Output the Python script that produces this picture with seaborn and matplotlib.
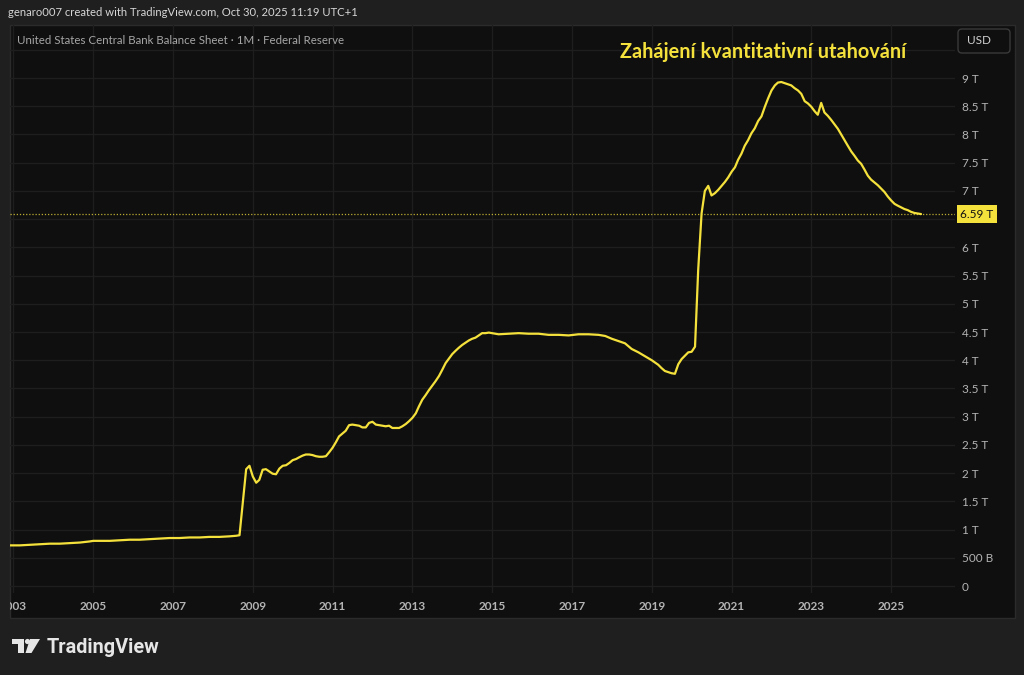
import seaborn as sns
import matplotlib.pyplot as plt
import matplotlib.dates as mdates
import matplotlib.transforms as mtransforms
from matplotlib.patches import Rectangle, FancyBboxPatch, Circle, Polygon
import pandas as pd

# ==========================
# DATA (trillions USD, monthly close)
# ==========================
months = [
    '2002-12', '2003-03', '2003-06', '2003-09', '2003-12', '2004-03', '2004-06', '2004-09',
    '2004-12', '2005-01', '2005-06', '2005-09', '2005-12', '2006-03', '2006-06', '2006-09',
    '2006-12', '2007-03', '2007-06', '2007-09', '2007-12', '2008-03', '2008-06', '2008-08',
    '2008-09', '2008-10', '2008-11', '2008-12',
    '2009-01', '2009-02', '2009-03', '2009-04', '2009-05', '2009-06', '2009-07', '2009-08',
    '2009-09', '2009-10', '2009-11', '2009-12',
    '2010-01', '2010-02', '2010-03', '2010-04', '2010-05', '2010-06', '2010-07', '2010-08',
    '2010-09', '2010-10', '2010-11', '2010-12',
    '2011-01', '2011-02', '2011-03', '2011-04', '2011-05', '2011-06', '2011-07', '2011-08',
    '2011-09', '2011-10', '2011-11', '2011-12',
    '2012-01', '2012-02', '2012-03', '2012-04', '2012-05', '2012-06', '2012-07', '2012-08',
    '2012-09', '2012-10', '2012-11', '2012-12',
    '2013-01', '2013-02', '2013-03', '2013-04', '2013-05', '2013-06', '2013-07', '2013-08',
    '2013-09', '2013-10', '2013-11', '2013-12',
    '2014-01', '2014-02', '2014-03', '2014-04', '2014-05', '2014-06', '2014-07', '2014-08',
    '2014-09', '2014-10', '2014-11', '2014-12',
    '2015-03', '2015-06', '2015-09', '2015-12', '2016-03', '2016-06', '2016-09', '2016-12',
    '2017-03', '2017-06', '2017-09', '2017-11', '2018-01', '2018-03', '2018-05', '2018-07',
    '2018-09', '2018-11',
    '2019-01', '2019-03', '2019-04', '2019-05', '2019-06', '2019-07', '2019-08', '2019-09',
    '2019-10', '2019-11', '2019-12',
    '2020-01', '2020-02', '2020-03', '2020-04', '2020-05', '2020-06', '2020-07', '2020-08',
    '2020-09', '2020-10', '2020-11', '2020-12',
    '2021-01', '2021-02', '2021-03', '2021-04', '2021-05', '2021-06', '2021-07', '2021-08',
    '2021-09', '2021-10', '2021-11', '2021-12',
    '2022-01', '2022-02', '2022-03', '2022-04', '2022-05', '2022-06', '2022-07', '2022-08',
    '2022-09', '2022-10', '2022-11', '2022-12',
    '2023-01', '2023-02', '2023-03', '2023-04', '2023-05', '2023-06', '2023-07', '2023-08',
    '2023-09', '2023-10', '2023-11', '2023-12',
    '2024-01', '2024-02', '2024-03', '2024-04', '2024-05', '2024-06', '2024-07', '2024-08',
    '2024-09', '2024-10', '2024-11', '2024-12',
    '2025-01', '2025-02', '2025-03', '2025-04', '2025-05', '2025-06', '2025-07', '2025-08',
    '2025-09', '2025-10',
]
assets_tn = [
    0.72, 0.72, 0.73, 0.74, 0.75, 0.75, 0.76, 0.77,
    0.79, 0.80, 0.80, 0.81, 0.82, 0.82, 0.83, 0.84,
    0.85, 0.85, 0.86, 0.86, 0.87, 0.87, 0.88, 0.89,
    0.90, 1.48, 2.07, 2.13,
    1.94, 1.83, 1.88, 2.06, 2.07, 2.03, 1.99, 1.98,
    2.08, 2.13, 2.14, 2.18,
    2.23, 2.25, 2.28, 2.31, 2.33, 2.33, 2.32, 2.30,
    2.29, 2.29, 2.30, 2.37,
    2.45, 2.55, 2.65, 2.70, 2.75, 2.85, 2.86, 2.85,
    2.84, 2.81, 2.81, 2.89,
    2.91, 2.86, 2.85, 2.84, 2.83, 2.84, 2.80, 2.80,
    2.80, 2.83, 2.87, 2.92,
    2.98, 3.06, 3.18, 3.30, 3.38, 3.47, 3.55, 3.63,
    3.72, 3.83, 3.95, 4.03,
    4.11, 4.17, 4.22, 4.27, 4.31, 4.35, 4.38, 4.40,
    4.44, 4.48, 4.48, 4.49,
    4.46, 4.47, 4.48, 4.47, 4.47, 4.45, 4.45, 4.44,
    4.46, 4.46, 4.45, 4.43, 4.38, 4.34, 4.30, 4.20,
    4.14, 4.07,
    4.00, 3.92, 3.86, 3.81, 3.79, 3.77, 3.76, 3.93,
    4.02, 4.08, 4.14,
    4.15, 4.24, 5.60, 6.60, 7.00, 7.09, 6.92, 6.96,
    7.02, 7.09, 7.16, 7.24,
    7.34, 7.42, 7.55, 7.66, 7.80, 7.90, 8.02, 8.11,
    8.24, 8.32, 8.49, 8.64,
    8.78, 8.87, 8.92, 8.93, 8.91, 8.89, 8.87, 8.82,
    8.78, 8.72, 8.59, 8.55,
    8.49, 8.41, 8.35, 8.56, 8.39, 8.33, 8.26, 8.18,
    8.10, 8.00, 7.90, 7.80,
    7.70, 7.62, 7.54, 7.48, 7.38, 7.27, 7.20, 7.15,
    7.10, 7.04, 6.98, 6.90,
    6.83, 6.77, 6.74, 6.71, 6.68, 6.66, 6.63, 6.61,
    6.60, 6.59,
]
year_ticks = list(range(2003, 2027, 2))
level_ticks = [i * 0.5 for i in range(20)]
last_value = 6.59

header = "genaro007 created with TradingView.com, Oct 30, 2025 11:19 UTC+1"
series_name = "United States Central Bank Balance Sheet \u00b7 1M \u00b7 Federal Reserve"
note = "Zahájení kvantitativní utahování"

# colours
BG = '#1f1f1f'
PANEL = '#0f0f0f'
GRID = '#1e1e1e'
TXT = '#b4b4b4'
YEL = '#f5e13c'

sns.set_theme(style='dark', rc={
    'figure.facecolor': BG,
    'axes.facecolor': 'none',
    'grid.color': GRID,
    'text.color': TXT,
    'xtick.color': TXT,
    'ytick.color': TXT,
})
plt.rcParams['font.family'] = ['Lato', 'DejaVu Sans']

df = pd.DataFrame({'date': pd.to_datetime(months), 'assets': assets_tn})

W, H = 1024, 675
fig = plt.figure(figsize=(W / 100, H / 100), dpi=100)
px = fig.dpi_scale_trans  # coordinates in inches (1 in = 100 px)


def fy(y):
    # pixel row (from top) -> inches from bottom
    return (H - y) / 100


# chart panel behind the axes
fig.add_artist(Rectangle((0.10, fy(618)), 10.05, 5.93, transform=px,
                         fc=PANEL, ec='#2b2b2b', lw=1, zorder=-1))

ax = fig.add_axes([10 / W, (H - 593) / H, 945 / W, 568 / H])

sns.lineplot(data=df, x='date', y='assets', ax=ax, color=YEL, linewidth=1.6, zorder=3)
ax.axhline(last_value, color=YEL, lw=0.9, ls=(0, (1, 1.5)), alpha=0.75, zorder=2)

ax.set_xlim(pd.Timestamp('2002-12-01'), pd.Timestamp('2026-08-08'))
ax.set_ylim(-0.124, 9.94)
ax.set_xlabel('')
ax.set_ylabel('')

ax.set_xticks(pd.to_datetime([f'{y}-01-01' for y in year_ticks]))
ax.xaxis.set_major_formatter(mdates.DateFormatter('%Y'))
ax.set_yticks(level_ticks)
ylabels = []
for v in level_ticks:
    if v == 0:
        ylabels.append('0')
    elif v == 0.5:
        ylabels.append('500 B')
    elif v in (6.5, 9.5):
        # covered by the last-value tag / USD button
        ylabels.append('')
    else:
        ylabels.append(f'{v:g} T')
ax.set_yticklabels(ylabels)
ax.yaxis.tick_right()

ax.grid(True, color=GRID, lw=1)
ax.set_axisbelow(True)
ax.tick_params(axis='x', length=0, pad=6, labelsize=8.5, labelcolor=TXT)
ax.tick_params(axis='y', length=0, pad=5, labelsize=8.5, labelcolor=TXT)
for lbl in ax.get_xticklabels():
    lbl.set_fontweight('bold')
    lbl.set_clip_box(mtransforms.TransformedBbox(
        mtransforms.Bbox.from_extents(0.10, 0, 10.15, 6.75), px))
for s in ax.spines.values():
    s.set_visible(False)

# last value tag on the price scale
tag_tr = mtransforms.blended_transform_factory(ax.transAxes, ax.transData)
ax.text(1.0058, last_value, f'{last_value:g} T', transform=tag_tr, ha='left', va='center',
        fontsize=8.5, color='#111111', clip_on=False, zorder=6,
        bbox=dict(boxstyle='square,pad=0.3', fc=YEL, ec='none'))

# texts
fig.text(0.08, fy(13), header, transform=px, ha='left', va='center',
         fontsize=8.1, color='#d6d6d6')
fig.text(0.17, fy(40), series_name, transform=px, ha='left', va='center',
         fontsize=8.25, color='#a6a6a6')
fig.text(6.20, fy(52), note, transform=px, ha='left', va='center',
         fontsize=14.3, fontweight='bold', color=YEL)

# USD button
fig.add_artist(FancyBboxPatch((9.58, fy(53)), 0.52, 0.24, transform=px,
                              boxstyle='round,pad=0,rounding_size=0.04',
                              fc=PANEL, ec='#3a3a3a', lw=1))
fig.text(9.67, fy(41), 'USD', transform=px, ha='left', va='center',
         fontsize=8.5, color='#d0d0d0')

# TradingView logo
LOGO = '#e6e6e6'
fig.add_artist(Rectangle((0.12, fy(644)), 0.12, 0.05, transform=px, fc=LOGO, ec='none'))
fig.add_artist(Rectangle((0.18, fy(653)), 0.06, 0.14, transform=px, fc=LOGO, ec='none'))
fig.add_artist(Circle((0.275, fy(641.5)), 0.026, transform=px, fc=LOGO, ec='none'))
fig.add_artist(Polygon([(0.30, fy(639)), (0.40, fy(639)), (0.315, fy(653)), (0.255, fy(653))],
                       closed=True, transform=px, fc=LOGO, ec='none'))
fig.text(0.47, fy(653), 'TradingView', transform=px, ha='left', va='baseline',
         fontsize=14.3, fontweight='semibold', color=LOGO, family=['Roboto', 'DejaVu Sans'])

fig.savefig('out.png', dpi=100, facecolor=fig.get_facecolor())
